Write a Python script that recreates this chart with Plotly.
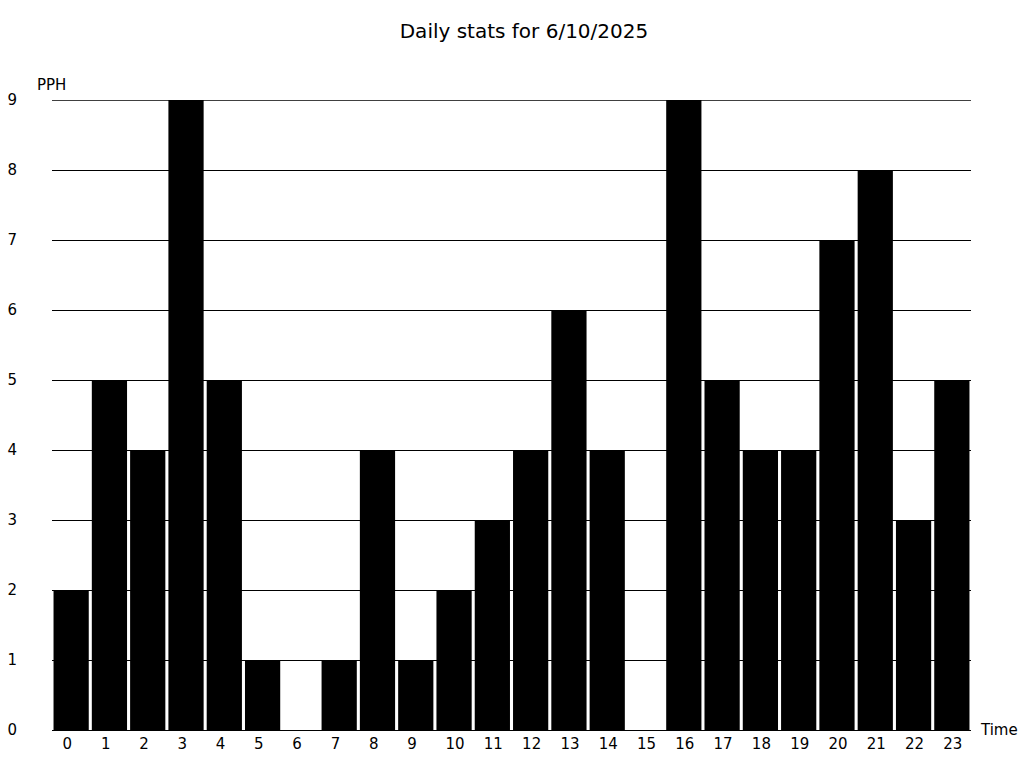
import plotly.graph_objects as go

hours = [str(h) for h in range(24)]
pph = [2, 5, 4, 9, 5, 1, 0, 1, 4, 1, 2, 3, 4, 6, 4, 0, 9, 5, 4, 4, 7, 8, 3, 5]
y_ticks = list(range(10))
y_max = 9
title_text = "Daily stats for 6/10/2025"

FONT = "DejaVu Sans"
# labels are left-aligned under bars in the reference: pad one-digit labels with a figure space
hour_labels = [h if len(h) > 1 else h + "\u2007" for h in hours]

fig = go.Figure(go.Bar(x=hours, y=pph, marker=dict(color="black", line=dict(width=0))))

fig.update_layout(
    width=1024, height=768,
    paper_bgcolor="white", plot_bgcolor="white",
    margin=dict(l=52, r=53, t=100, b=38, autoexpand=False),
    bargap=0.08,
    font=dict(family=FONT, size=15, color="black"),
    title=dict(text=title_text, x=0.5117, xanchor="center", y=0.96, yanchor="middle",
               font=dict(family=FONT, size=20, color="black")),
    showlegend=False,
    xaxis=dict(type="category", showgrid=False, showline=False, ticks="",
               tickvals=hours, ticktext=hour_labels, ticklabelshift=1, ticklabelstandoff=3,
               tickfont=dict(size=15), zeroline=False, automargin=False),
    yaxis=dict(range=[0, y_max], tickvals=y_ticks, showgrid=True, gridcolor="black", gridwidth=1,
               zeroline=True, zerolinecolor="black", zerolinewidth=1, automargin=False,
               showline=False, ticks="", ticklabelstandoff=34, tickfont=dict(size=15)),
    annotations=[
        dict(text="PPH", xref="paper", yref="paper", x=-0.001, y=1.0, xanchor="center",
             yanchor="bottom", yshift=4, showarrow=False, font=dict(size=15)),
        dict(text="Time", xref="paper", yref="paper", x=1.0, y=0.0, xanchor="left",
             yanchor="middle", xshift=7, showarrow=False, font=dict(size=15)),
    ],
)
# top gridline at the range edge (plotly omits it)
fig.add_hline(y=y_max, line_color="black", line_width=1.3, layer="below")

fig.write_html("out.html", config={"displayModeBar": False},
               post_script="document.body.style.margin='0';")
